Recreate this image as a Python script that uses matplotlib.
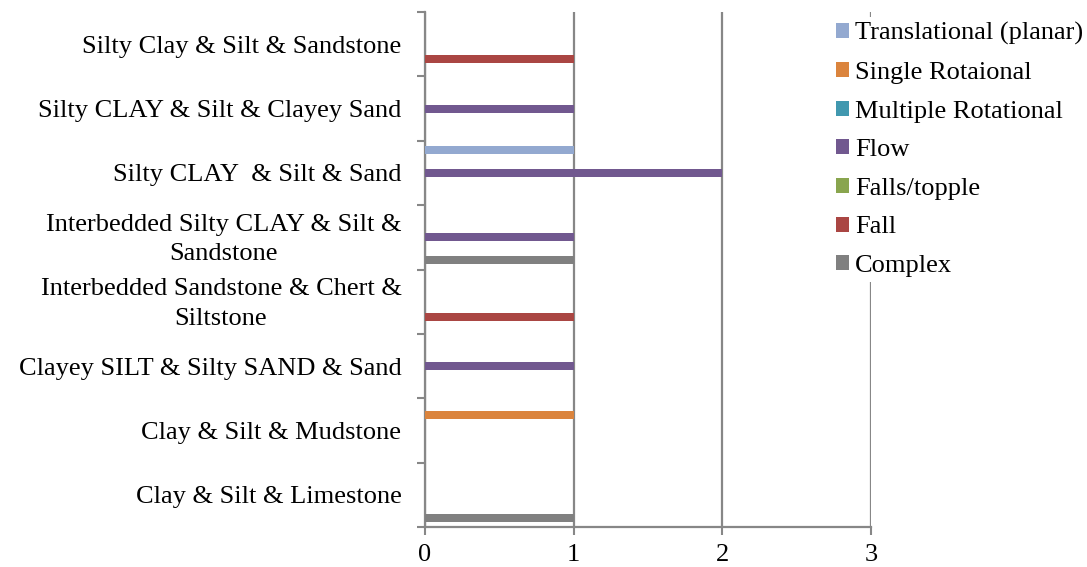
import numpy as np
import matplotlib.pyplot as plt
import matplotlib
import matplotlib.transforms as mtrans

matplotlib.rcParams['font.family'] = ['Liberation Serif', 'DejaVu Serif']

# categories, bottom to top
categories = ['Clay & Silt & Limestone',
              'Clay & Silt & Mudstone',
              'Clayey SILT & Silty SAND & Sand',
              'Interbedded Sandstone & Chert &\nSiltstone',
              'Interbedded Silty CLAY & Silt &\nSandstone',
              'Silty CLAY  & Silt & Sand',
              'Silty CLAY & Silt & Clayey Sand',
              'Silty Clay & Silt & Sandstone']

# series, in drawing order (bottom of each group first)
series_names = ['Complex', 'Fall', 'Falls/topple', 'Flow',
                'Multiple Rotational', 'Single Rotaional', 'Translational (planar)']
complex_ = [1, 0, 0, 0, 1, 0, 0, 0]
fall = [0, 0, 0, 1, 0, 0, 0, 1]
falls_topple = [0, 0, 0, 0, 0, 0, 0, 0]
flow = [0, 0, 1, 0, 1, 2, 1, 0]
multiple_rot = [0, 0, 0, 0, 0, 0, 0, 0]
single_rot = [0, 1, 0, 0, 0, 0, 0, 0]
translational = [0, 0, 0, 0, 0, 1, 0, 0]
series_values = [complex_, fall, falls_topple, flow, multiple_rot, single_rot, translational]
colors = ['#808080', '#AA4643', '#89A54E', '#71588F', '#4198AF', '#DB843D', '#93A9D0']

fs = 19

fig = plt.figure(figsize=(10.87, 5.67), dpi=100, facecolor='white')
ax = fig.add_axes([425 / 1087, 1 - 527 / 567, (871 - 425) / 1087, (527 - 12) / 567])

n = len(series_names)
w = 1 / (n + 1.5)  # excel gap width 150%
y = np.arange(len(categories))
for i in range(n):
    off = -0.5 + 0.75 * w + (i + 0.5) * w
    ax.barh(y + off, series_values[i], height=w * 1.05, color=colors[i],
            label=series_names[i], linewidth=0, zorder=3)

ax.set_xlim(0, 3)
ax.set_ylim(-0.5, len(categories) - 0.5)
ax.set_xticks([0, 1, 2, 3])
ax.set_yticks(y)
ax.set_yticklabels(categories)
ax.set_yticks(np.arange(-0.5, len(categories)), minor=True)
ax.tick_params(axis='y', which='major', length=0, pad=17, labelsize=fs)
ax.tick_params(axis='y', which='minor', length=6, width=1.5, color='#878787')
ax.tick_params(axis='x', length=6, width=1.5, color='#878787', labelsize=fs, pad=6)

# two-line labels sit a little higher in the original
up = mtrans.ScaledTranslation(0, 4 / 100, fig.dpi_scale_trans)
for t in ax.get_yticklabels():
    t.set_multialignment('center')
    t.set_linespacing(1.45)
    if '\n' in t.get_text():
        t.set_transform(t.get_transform() + up)

ax.grid(axis='x', color='#878787', linewidth=1.6, zorder=1)
for s in ['top', 'right']:
    ax.spines[s].set_visible(False)
for s in ['left', 'bottom']:
    ax.spines[s].set_color('#878787')
    ax.spines[s].set_linewidth(1.6)

handles, labels = ax.get_legend_handles_labels()
leg = fig.legend(handles[::-1], labels[::-1], loc='upper left',
                 bbox_to_anchor=(831 / 1087, 1 - 17 / 567), fontsize=fs,
                 frameon=True, facecolor='white', edgecolor='none', framealpha=1,
                 fancybox=False, handlelength=0.5, handleheight=0.5,
                 handletextpad=0.22, labelspacing=0.63, borderpad=0.2,
                 borderaxespad=0)

plt.savefig('out.png', dpi=100)
